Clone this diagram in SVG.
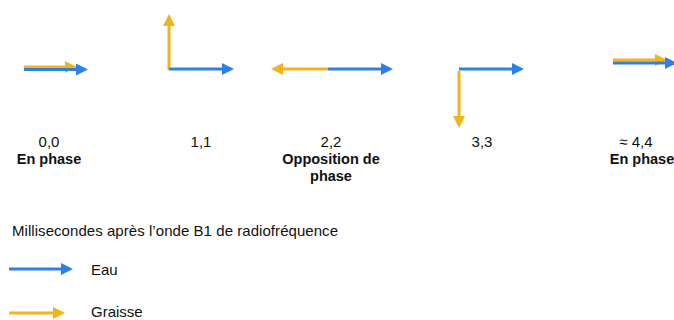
<svg xmlns="http://www.w3.org/2000/svg" width="674" height="320" viewBox="0 0 674 320">
<style>
  .bl{stroke:#2B80EA;stroke-width:3;fill:none;marker-end:url(#hb)}
  .ye{stroke:#F0B41C;stroke-width:3;fill:none;marker-end:url(#hy)}
  text{font-family:"Liberation Sans",Arial,Helvetica,sans-serif;fill:#111}
  .n{font-size:15px;text-anchor:middle}
  .b{font-size:14.5px;font-weight:bold;text-anchor:middle}
  .r{font-size:15px}
</style>
<defs>
  <marker id="hb" markerUnits="userSpaceOnUse" viewBox="0 0 12 12" markerWidth="12" markerHeight="12" refX="9" refY="6" orient="auto">
    <path d="M0,0 L12,6 L0,12 z" fill="#2B80EA"/>
  </marker>
  <marker id="hy" markerUnits="userSpaceOnUse" viewBox="0 0 12 12" markerWidth="12" markerHeight="12" refX="9" refY="6" orient="auto">
    <path d="M0,0 L12,6 L0,12 z" fill="#F0B41C"/>
  </marker>
</defs>
<g id="connectors">
  <line class="ye" x1="24" y1="67" x2="74" y2="67"/>
  <line class="bl" x1="24" y1="69.5" x2="85" y2="69.5"/>
  <line class="ye" x1="169" y1="70" x2="169" y2="17"/>
  <line class="bl" x1="169" y1="69" x2="231" y2="69"/>
  <line class="ye" x1="328" y1="69" x2="274" y2="69"/>
  <line class="bl" x1="328" y1="69" x2="390" y2="69"/>
  <line class="bl" x1="459" y1="69" x2="521" y2="69"/>
  <line class="ye" x1="459" y1="71" x2="459" y2="125"/>
  <line class="ye" x1="613" y1="60" x2="664" y2="60"/>
  <line class="bl" x1="613" y1="63" x2="674" y2="63"/>
  <line class="bl" x1="9" y1="269" x2="70" y2="269"/>
  <line class="ye" x1="9" y1="313" x2="62" y2="313"/>
</g>
<g id="t0"><text class="n" x="49" y="147">0,0</text><text class="b" x="49" y="164">En phase</text></g>
<g id="t1"><text class="n" x="201" y="147">1,1</text></g>
<g id="t2"><text class="n" x="331" y="147">2,2</text><text class="b" x="331" y="164">Opposition de</text><text class="b" x="331" y="181">phase</text></g>
<g id="t3"><text class="n" x="482" y="147">3,3</text></g>
<g id="t4"><text class="n" x="636" y="147">≈ 4,4</text><text class="b" x="642" y="164">En phase</text></g>
<g id="legend">
  <text class="r" x="12" y="236" textLength="326">Millisecondes après l’onde B1 de radiofréquence</text>
  <text class="r" x="91" y="275">Eau</text>
  <text class="r" x="91" y="317">Graisse</text>
</g>
</svg>
